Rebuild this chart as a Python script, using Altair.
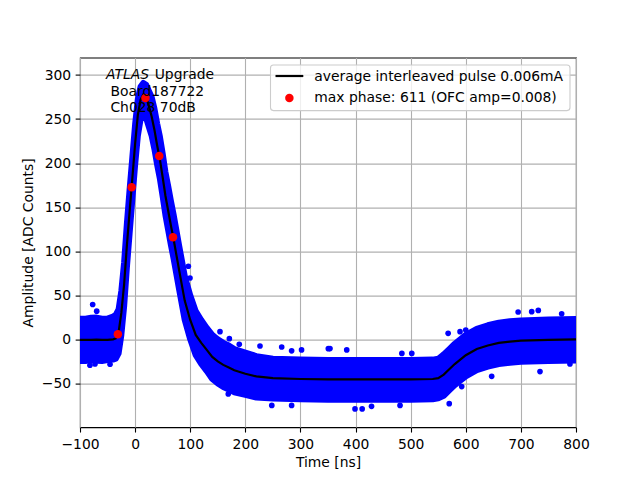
import altair as alt
import pandas as pd

# ---- data ----
t = [-100, -90, -80, -70, -60, -50, -40, -35, -30, -25, -20, -15, -10, -5, 0, 5, 10, 15, 20, 25,
     30, 35, 40, 45, 50, 55, 60, 65, 70, 80, 90, 100, 110, 120, 130, 140, 150, 160, 170, 180,
     200, 220, 250, 300, 350, 400, 450, 500, 540, 550, 560, 570, 580, 590, 600, 620, 640, 660,
     680, 700, 750, 800]
avg = [-0.5, -0.5, -0.5, -0.3, -0.5, -0.5, 0, 1, 8, 30, 62, 106, 145, 183, 222, 255, 272, 278, 275, 265,
       253, 238, 220, 204, 184, 163, 146, 129, 113, 78, 44, 22, 5, -4, -12, -20, -25, -29, -32, -35,
       -39, -42, -44, -45, -45.5, -45.5, -45.5, -45.5, -45, -44, -40, -34, -28, -23, -18, -11, -7, -4,
       -2.5, -1.5, -0.5, 0]
# noise spread of the blue scatter cloud above / below the average
hi_off = [24, 24, 25, 25, 24, 24, 26, 27, 26, 25, 25, 25, 25, 24, 22, 18, 15, 13, 14, 17,
          22, 24, 25, 26, 27, 27, 28, 28, 28, 28, 28, 28, 27, 26, 25, 25, 25, 25, 25, 24,
          24, 23, 22, 22, 22, 22, 22, 22, 22, 22, 23, 23, 23, 23, 23, 23, 23, 23,
          23, 23, 23, 23]
lo_off = [24, 24, 23, 24, 24, 23, 23, 23, 24, 25, 25, 25, 25, 24, 24, 24, 22, 26, 24, 24,
          22, 22, 22, 22, 22, 22, 22, 22, 22, 22, 22, 22, 23, 24, 24, 25, 25, 25, 25, 25,
          24, 24, 23, 23, 23, 23, 23, 23, 23, 23, 24, 24, 24, 24, 24, 24, 24, 24,
          24, 24, 24, 24]
# isolated outlying samples of the scatter cloud
out_t = [-77, -69.7, -72.8, -82, -45.5, 154, 171, 189, 226.6, 266, 284, 302, 350.6, 169, 248, 284,
         568, 589.6, 600, 695, 719.6, 731.6, 774, 734.7, 647, 399, 412, 429, 480.7, 570, 384, 353.6,
         502, 484, 592.6, 789, 96.6, 99.6]
out_a = [39.6, 32, -28, -29.4, -28.3, 8.7, 0.8, -5.7, -7.5, -8.7, -13, -12, -10.6, -62, -75, -75,
         6.8, 8.7, 10.5, 31, 31.4, 32.8, 29, -36.6, -42, -79, -79, -76, -75, -73, -12, -10.5,
         -16, -16, -53.6, -28, 83, 69.6]
# OFC phase samples (red)
max_t = [-31.25, -6.25, 18.75, 43.75, 68.75]
max_a = [5.7, 172.7, 274.0, 208.0, 116.0]

L1 = "average interleaved pulse 0.006mA"
L2 = "max phase: 611 (OFC amp=0.008)"
x_ticks = list(range(-100, 801, 100))
y_ticks = list(range(-50, 301, 50))

FONT = "DejaVu Sans"
FS = 13.9

band = pd.DataFrame({
    "t": t,
    "hi": [a + h for a, h in zip(avg, hi_off)],
    "lo": [a - l for a, l in zip(avg, lo_off)],
})
line_df = pd.DataFrame({"t": t, "a": avg})
out_df = pd.DataFrame({"t": out_t, "a": out_a})
max_df = pd.DataFrame({"t": max_t, "a": max_a})

xs = alt.Scale(domain=[-100, 800], nice=False, zero=False)
ys = alt.Scale(domain=[-99.7, 319.8], nice=False, zero=False)


def X(field):
    return alt.X(field, type="quantitative", scale=xs, title="Time [ns]",
                 axis=alt.Axis(values=x_ticks, labelFlush=False))


def Y(field):
    return alt.Y(field, type="quantitative", scale=ys, title="Amplitude [ADC Counts]",
                 axis=alt.Axis(values=y_ticks, labelFlush=False))


band_layer = alt.Chart(band).mark_area(
    color="#0000ff", stroke="#0000ff", strokeWidth=6, strokeJoin="round", opacity=1, clip=True
).encode(x=X("t"), y=Y("hi"), y2="lo")

out_layer = alt.Chart(out_df).mark_circle(color="#0000ff", size=32, opacity=1, clip=True).encode(
    x=X("t"), y=Y("a"))

line_layer = alt.Chart(line_df).mark_line(color="black", strokeWidth=2.2, clip=True).encode(
    x=X("t"), y=Y("a"))

max_layer = alt.Chart(max_df).mark_circle(color="#ff0000", size=72, opacity=1, clip=True).encode(
    x=X("t"), y=Y("a"))

# annotation text (data coordinates)
ann1 = pd.DataFrame({"t": [-52.8], "a": [295.5], "txt": ["ATLAS"]})
ann2 = pd.DataFrame({"t": [35.5], "a": [295.5], "txt": ["Upgrade"]})
ann3 = pd.DataFrame({"t": [-44.8, -44.8], "a": [275.7, 257.5], "txt": ["Board187722", "Ch028 70dB"]})

txt_kw = dict(font=FONT, fontSize=FS, align="left", baseline="alphabetic", color="black")
t1 = alt.Chart(ann1).mark_text(fontStyle="italic", **txt_kw).encode(x=X("t"), y=Y("a"), text="txt")
t2 = alt.Chart(ann2).mark_text(**txt_kw).encode(x=X("t"), y=Y("a"), text="txt")
t3 = alt.Chart(ann3).mark_text(**txt_kw).encode(x=X("t"), y=Y("a"), text="txt")

# legend (upper right of the plot area, in plot pixels)
one = pd.DataFrame({"k": [0]})
leg_box = alt.Chart(one).mark_rect(
    fill="white", fillOpacity=0.8, stroke="#cccccc", strokeWidth=1.1, cornerRadius=3
).encode(x=alt.value(190.5), x2=alt.value(490), y=alt.value(7.4), y2=alt.value(53))
leg_line = alt.Chart(one).mark_rule(color="black", strokeWidth=2.2).encode(
    x=alt.value(195.5), x2=alt.value(223.3), y=alt.value(18.4))
leg_dot = alt.Chart(one).mark_circle(color="#ff0000", size=72, opacity=1).encode(
    x=alt.value(209.4), y=alt.value(40.4))
leg_t1 = alt.Chart(pd.DataFrame({"txt": [L1]})).mark_text(
    font=FONT, fontSize=FS, align="left", baseline="alphabetic", color="black"
).encode(x=alt.value(234.3), y=alt.value(23.4), text="txt")
leg_t2 = alt.Chart(pd.DataFrame({"txt": [L2]})).mark_text(
    font=FONT, fontSize=FS, align="left", baseline="alphabetic", color="black"
).encode(x=alt.value(234.3), y=alt.value(44.6), text="txt")

chart = alt.layer(band_layer, out_layer, line_layer, max_layer, t1, t2, t3,
                  leg_box, leg_line, leg_dot, leg_t1, leg_t2).properties(
    width=496, height=369.6,
    padding={"left": 72, "top": 49.6, "right": 56, "bottom": 44},
    autosize="none",
    background="white",
).configure_view(
    stroke="black", strokeWidth=1.1
).configure_axis(
    domain=False, grid=True, gridColor="#b0b0b0", gridWidth=1.1,
    tickColor="black", tickWidth=1.1, tickSize=4.86,
    labelFont=FONT, labelFontSize=FS, labelColor="black",
    titleFont=FONT, titleFontSize=FS, titleColor="black", titleFontWeight="normal",
).configure_axisX(
    labelPadding=5.5, titlePadding=4,
).configure_axisY(
    labelPadding=4.5, titlePadding=6,
)

chart.save("out.html", embed_options={"renderer": "svg", "actions": False})
